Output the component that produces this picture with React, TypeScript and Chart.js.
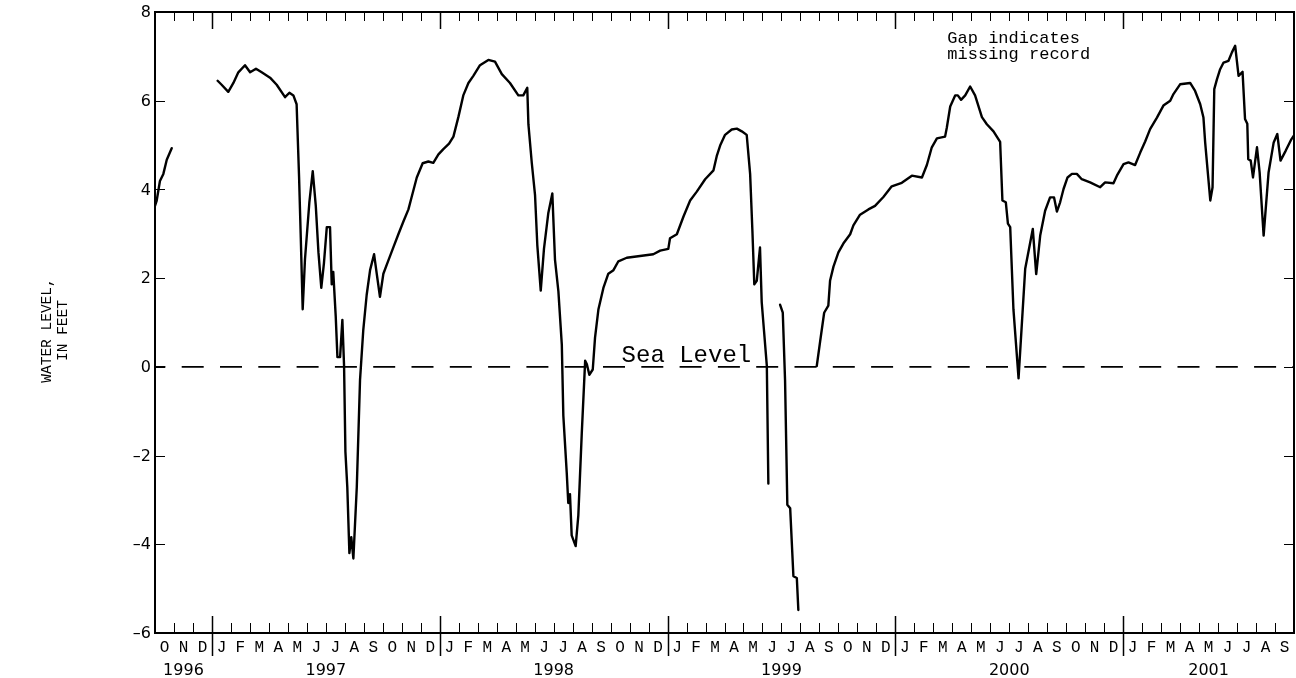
import { useEffect, useRef } from "react";
import { Chart, registerables } from "chart.js";

Chart.register(...registerables);

// Time axis: months counted from 1 October 1996 (0) to 30 September 2001 (60).
const axisStartMonth = 0;
const axisEndMonth = 60;

const monthLetters = ["J", "F", "M", "A", "M", "J", "J", "A", "S", "O", "N", "D"];
const yearLabels = ["1996", "1997", "1998", "1999", "2000", "2001"];
const yearStartMonths = [0, 3, 15, 27, 39, 51];
const yearEndMonths = [3, 15, 27, 39, 51, 60];
const levelTicks = [8, 6, 4, 2, 0, -2, -4, -6];

// Record 1: October - November 1996
const fall1996Months = [0.0, 0.09, 0.26, 0.44, 0.62, 0.88];
const fall1996Levels = [3.63, 3.75, 4.19, 4.35, 4.67, 4.93];

// Record 2: January 1997 - July 1999
const mainMonths = [
  3.3, 3.51, 3.86, 4.13, 4.39, 4.74, 5.01, 5.32, 5.62, 6.06, 6.41, 6.85, 7.08, 7.29, 7.46,
  7.59, 7.68, 7.78, 7.9, 8.13, 8.31, 8.47, 8.61, 8.76, 8.9, 9.05, 9.22, 9.31, 9.39, 9.52,
  9.61, 9.75, 9.87, 9.96, 10.03, 10.13, 10.24, 10.34, 10.45, 10.63, 10.8, 10.97, 11.15,
  11.33, 11.54, 11.68, 11.85, 12.03, 12.24, 12.56, 12.82, 13.08, 13.35, 13.52, 13.79, 14.1,
  14.4, 14.66, 14.93, 15.19, 15.49, 15.72, 15.98, 16.24, 16.51, 16.77, 17.12, 17.56, 17.91,
  18.27, 18.7, 19.14, 19.4, 19.61, 19.67, 19.85, 20.02, 20.14, 20.32, 20.49, 20.72, 20.93,
  21.07, 21.25, 21.43, 21.51, 21.69, 21.77, 21.86, 21.95, 22.16, 22.3, 22.48, 22.66, 22.75,
  22.88, 23.06, 23.18, 23.36, 23.62, 23.88, 24.15, 24.41, 24.85, 25.55, 26.25, 26.61, 27.04,
  27.13, 27.49, 27.84, 28.19, 28.54, 28.98, 29.42, 29.59, 29.77, 30.03, 30.38, 30.65, 30.91,
  31.17, 31.35, 31.47, 31.57, 31.7, 31.87, 31.96, 32.08, 32.23, 32.31,
];
const mainLevels = [
  6.45, 6.36, 6.2, 6.4, 6.64, 6.8, 6.64, 6.72, 6.64, 6.52, 6.36, 6.08, 6.18, 6.12, 5.92,
  4.27, 2.9, 1.3, 2.42, 3.7, 4.41, 3.63, 2.58, 1.78, 2.34, 3.15, 3.15, 1.86, 2.14, 1.14,
  0.22, 0.22, 1.06, 0.02, -1.91, -2.71, -4.2, -3.84, -4.32, -2.71, -0.3, 0.82, 1.62,
  2.18, 2.54, 2.1, 1.58, 2.1, 2.34, 2.7, 2.99, 3.27, 3.55, 3.83, 4.27, 4.59,
  4.63, 4.6, 4.79, 4.91, 5.03, 5.19, 5.63, 6.12, 6.4, 6.56, 6.8, 6.92, 6.88,
  6.6, 6.4, 6.12, 6.12, 6.29, 5.47, 4.59, 3.87, 2.74, 1.72, 2.66, 3.47, 3.91,
  2.42, 1.7, 0.5, -1.1, -2.39, -3.07, -2.87, -3.8, -4.04, -3.35, -1.51, 0.14, 0.06,
  -0.18, -0.06, 0.66, 1.3, 1.78, 2.1, 2.18, 2.38, 2.46, 2.5, 2.54, 2.62, 2.66,
  2.9, 2.99, 3.39, 3.75, 3.95, 4.23, 4.43, 4.75, 4.99, 5.23, 5.35, 5.37, 5.31,
  5.23, 4.35, 3.07, 1.86, 1.94, 2.69, 1.46, 0.82, 0.02, -2.63,
];

// Record 3: late July - August 1999
const summer1999Months = [32.93, 33.07, 33.19, 33.31, 33.46, 33.63, 33.81, 33.89];
const summer1999Levels = [1.4, 1.22, -0.3, -3.11, -3.19, -4.72, -4.76, -5.48];

// Record 4: August 1999 - September 2001
const lateMonths = [
  34.86, 35.04, 35.25, 35.47, 35.56, 35.74, 36.0, 36.26, 36.62, 36.79, 37.14, 37.58, 37.93,
  38.37, 38.81, 39.34, 39.87, 40.4, 40.66, 40.92, 41.19, 41.62, 41.71, 41.89, 42.15, 42.29,
  42.46, 42.68, 42.94, 43.2, 43.56, 43.82, 44.17, 44.52, 44.64, 44.82, 44.93, 45.05, 45.22,
  45.49, 45.84, 46.24, 46.42, 46.63, 46.89, 47.15, 47.36, 47.51, 47.68, 47.86, 48.07, 48.3,
  48.56, 48.82, 49.26, 49.79, 50.05, 50.49, 50.67, 51.02, 51.28, 51.63, 51.9, 52.16, 52.42,
  52.78, 53.12, 53.48, 53.65, 54.0, 54.53, 54.79, 55.06, 55.23, 55.32, 55.46, 55.59, 55.71,
  55.8, 55.94, 56.11, 56.29, 56.55, 56.73, 56.9, 57.08, 57.29, 57.42, 57.54, 57.59, 57.72,
  57.84, 58.05, 58.19, 58.4, 58.66, 58.93, 59.12, 59.29, 59.56, 59.86, 60.0,
];
const lateLevels = [
  0.02, 0.58, 1.22, 1.38, 1.94, 2.26, 2.58, 2.78, 2.99, 3.19, 3.43, 3.55, 3.63,
  3.83, 4.07, 4.15, 4.31, 4.27, 4.55, 4.95, 5.15, 5.19, 5.39, 5.87, 6.12, 6.12,
  6.02, 6.12, 6.32, 6.12, 5.63, 5.47, 5.31, 5.07, 3.75, 3.71, 3.23, 3.15, 1.3,
  -0.26, 2.21, 3.11, 2.09, 2.96, 3.52, 3.82, 3.82, 3.5, 3.71, 4.01, 4.27, 4.35,
  4.35, 4.23, 4.16, 4.05, 4.16, 4.14, 4.31, 4.57, 4.61, 4.55, 4.83, 5.08, 5.36,
  5.62, 5.89, 6.0, 6.15, 6.37, 6.4, 6.22, 5.92, 5.62, 5.06, 4.38, 3.75, 4.05,
  6.26, 6.48, 6.71, 6.86, 6.9, 7.09, 7.24, 6.56, 6.65, 5.59, 5.48, 4.68, 4.65,
  4.27, 4.95, 4.38, 2.96, 4.38, 5.06, 5.25, 4.65, 4.87, 5.13, 5.22,
];

const seaLevelFeet = 0;

type Pt = { x: number; y: number | null };

function joinRecords(records: [number[], number[]][]): Pt[] {
  const out: Pt[] = [];
  records.forEach(([months, levels], i) => {
    if (i > 0) out.push({ x: (out[out.length - 1].x + months[0]) / 2, y: null });
    months.forEach((m, k) => out.push({ x: m, y: levels[k] }));
  });
  return out;
}

const MONO = '"Liberation Mono", "Courier New", monospace';
const SANS = '"DejaVu Sans", Verdana, sans-serif';

const framePlugin = {
  id: "hydrographFrame",
  afterDraw(chart: any) {
    const { ctx, chartArea: a, scales } = chart;
    const xs = scales.x;
    const ys = scales.y;
    ctx.save();
    ctx.strokeStyle = "#000";
    ctx.fillStyle = "#000";

    // plot border
    ctx.lineWidth = 2;
    ctx.strokeRect(a.left, a.top, a.right - a.left, a.bottom - a.top);

    // month ticks (top and bottom, pointing inward), longer at year boundaries
    for (let m = axisStartMonth + 1; m < axisEndMonth; m++) {
      const x = Math.round(xs.getPixelForValue(m)) + 0.5;
      const isYear = yearStartMonths.includes(m);
      ctx.lineWidth = isYear ? 1.5 : 1;
      ctx.beginPath();
      ctx.moveTo(x, a.top);
      ctx.lineTo(x, a.top + (isYear ? 17 : 9));
      ctx.moveTo(x, isYear ? a.bottom - 17 : a.bottom - 10);
      ctx.lineTo(x, isYear ? a.bottom + 23 : a.bottom);
      ctx.stroke();
    }

    // level ticks on both sides
    ctx.lineWidth = 1;
    levelTicks.forEach((v) => {
      const y = Math.round(ys.getPixelForValue(v)) + 0.5;
      ctx.beginPath();
      ctx.moveTo(a.left, y);
      ctx.lineTo(a.left + 10, y);
      ctx.moveTo(a.right, y);
      ctx.lineTo(a.right - 10, y);
      ctx.stroke();
    });

    // level tick labels
    ctx.font = `16px ${SANS}`;
    ctx.textAlign = "right";
    ctx.textBaseline = "middle";
    levelTicks.forEach((v) => {
      const label = v < 0 ? "\u2013" + Math.abs(v) : String(v);
      ctx.fillText(label, a.left - 4, ys.getPixelForValue(v) + 1);
    });

    // month letters
    ctx.font = `16px ${MONO}`;
    ctx.textAlign = "center";
    ctx.textBaseline = "alphabetic";
    for (let m = axisStartMonth; m < axisEndMonth; m++) {
      const letter = monthLetters[(9 + m) % 12];
      ctx.fillText(letter, xs.getPixelForValue(m + 0.5), a.bottom + 19);
    }

    // year labels
    ctx.font = `16px ${SANS}`;
    yearLabels.forEach((yr, i) => {
      const cx = (xs.getPixelForValue(yearStartMonths[i]) + xs.getPixelForValue(yearEndMonths[i])) / 2;
      ctx.fillText(yr, cx, a.bottom + 42);
    });

    // axis title
    ctx.save();
    ctx.translate(0, (a.top + a.bottom) / 2 + 8);
    ctx.rotate(-Math.PI / 2);
    ctx.font = `14.5px ${MONO}`;
    ctx.textAlign = "center";
    ctx.fillText("WATER LEVEL,", 0, 51);
    ctx.fillText("IN FEET", 0, 67);
    ctx.restore();

    // notes inside the plot
    ctx.textAlign = "left";
    ctx.font = `24px ${MONO}`;
    ctx.fillText("Sea Level", xs.getPixelForValue(24.58), ys.getPixelForValue(seaLevelFeet) - 5);
    ctx.font = `17px ${MONO}`;
    const noteX = xs.getPixelForValue(41.74);
    const noteY = ys.getPixelForValue(7.3);
    ctx.fillText("Gap indicates", noteX, noteY);
    ctx.fillText("missing record", noteX, noteY + 16);

    ctx.restore();
  },
};

export default function App() {
  const canvasRef = useRef<HTMLCanvasElement | null>(null);

  useEffect(() => {
    const canvas = canvasRef.current;
    if (!canvas) return;
    const series = joinRecords([
      [fall1996Months, fall1996Levels],
      [mainMonths, mainLevels],
      [summer1999Months, summer1999Levels],
      [lateMonths, lateLevels],
    ]);
    const chart = new Chart(canvas, {
      type: "line",
      data: {
        datasets: [
          {
            label: "Sea level",
            data: [
              { x: axisStartMonth, y: seaLevelFeet },
              { x: axisEndMonth, y: seaLevelFeet },
            ],
            borderColor: "#000",
            borderWidth: 1.6,
            borderDash: [22, 16.3],
            borderDashOffset: 11.6,
            pointRadius: 0,
            fill: false,
          },
          {
            label: "Water level",
            data: series,
            borderColor: "#000",
            borderWidth: 2.4,
            pointRadius: 0,
            tension: 0,
            spanGaps: false,
            fill: false,
            borderJoinStyle: "round",
            borderCapStyle: "round",
          },
        ],
      },
      options: {
        responsive: false,
        animation: false,
        devicePixelRatio: 1,
        layout: { padding: { left: 155, right: 2, top: 12, bottom: 45 } },
        plugins: { legend: { display: false }, tooltip: { enabled: false } },
        events: [],
        scales: {
          x: { type: "linear", min: axisStartMonth, max: axisEndMonth, display: false },
          y: { type: "linear", min: -6, max: 8, display: false },
        },
      },
      plugins: [framePlugin],
    });
    return () => chart.destroy();
  }, []);

  return (
    <div style={{ position: "fixed", left: 0, top: 0, width: 1296, height: 678, background: "#fff" }}>
      <canvas ref={canvasRef} width={1296} height={678} style={{ display: "block" }} />
    </div>
  );
}
